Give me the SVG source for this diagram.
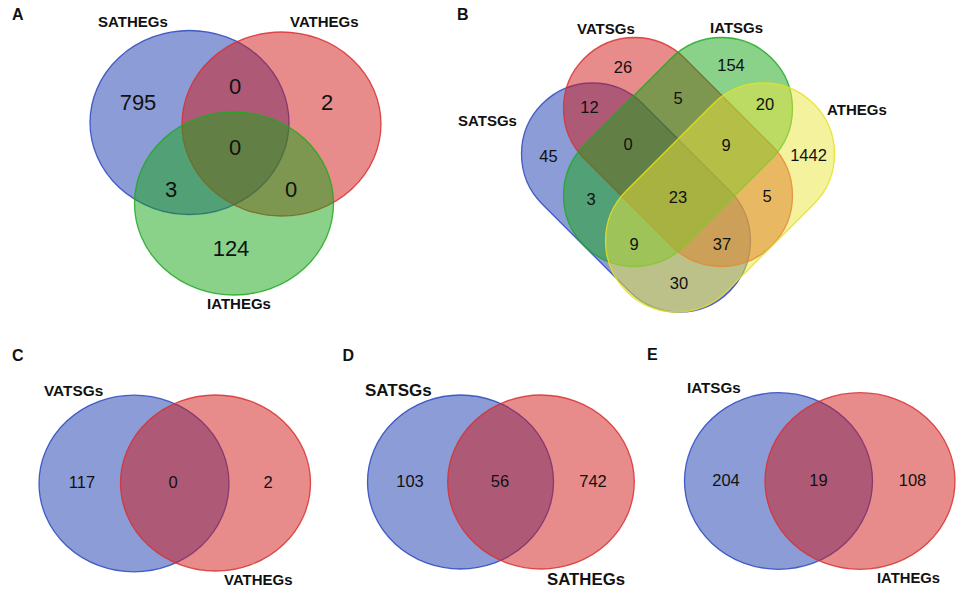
<svg xmlns="http://www.w3.org/2000/svg" width="957" height="591" viewBox="0 0 957 591">
<style>
.bg{fill:#ffffff}
.s{stroke-width:1.3;stroke-opacity:0.85}
.blue{fill:#1a3ab0;fill-opacity:0.5;stroke:#2a46c0}
.red{fill:#d01818;fill-opacity:0.5;stroke:#d83030}
.green{fill:#16a316;fill-opacity:0.5;stroke:#20a820}
.yellow{fill:#ece63c;fill-opacity:0.5;stroke:#e8e020}
.lab{font-family:"Liberation Sans",Arial,sans-serif;font-weight:bold;fill:#111}
.pl{font-family:"Liberation Sans",Arial,sans-serif;font-weight:bold;font-size:16px;fill:#111}
.num{font-family:"Liberation Sans",Arial,sans-serif;fill:#111;text-anchor:middle;font-size:16.5px}
.numA{font-family:"Liberation Sans",Arial,sans-serif;fill:#111;text-anchor:middle;font-size:22px}
</style>
<rect class="bg" x="0" y="0" width="957" height="591"/>
<g id="connectors"/>

<!-- Panel A -->
<g id="panelA">
  <text class="pl" x="12" y="20">A</text>
  <g id="A_SATHEGs">
    <ellipse class="blue s" cx="189.5" cy="122.5" rx="99.5" ry="92"/>
    <text class="lab" x="98" y="27" font-size="15">SATHEGs</text>
  </g>
  <g id="A_VATHEGs">
    <ellipse class="red s" cx="281.5" cy="124" rx="99.5" ry="92"/>
    <text class="lab" x="290" y="27" font-size="15">VATHEGs</text>
  </g>
  <g id="A_IATHEGs">
    <ellipse class="green s" cx="234" cy="203.5" rx="99.5" ry="91.5"/>
    <text class="lab" x="207" y="309" font-size="15">IATHEGs</text>
  </g>
  <g id="A_counts">
    <text class="numA" x="138" y="110">795</text>
    <text class="numA" x="235" y="94">0</text>
    <text class="numA" x="327" y="110">2</text>
    <text class="numA" x="235" y="155">0</text>
    <text class="numA" x="171" y="197">3</text>
    <text class="numA" x="291" y="197">0</text>
    <text class="numA" x="231" y="256">124</text>
  </g>
</g>

<!-- Panel B -->
<g id="panelB">
  <text class="pl" x="457" y="20">B</text>
  <g id="B_SATSGs">
    <rect class="blue s" x="503.5" y="126.5" width="265" height="142" rx="71" transform="rotate(45 636 197.5)"/>
    <text class="lab" x="458" y="126" font-size="15">SATSGs</text>
  </g>
  <g id="B_VATSGs">
    <rect class="red s" x="545.5" y="81" width="265" height="142" rx="71" transform="rotate(45 678 152)"/>
    <text class="lab" x="577" y="34" font-size="15">VATSGs</text>
  </g>
  <g id="B_IATSGs">
    <rect class="green s" x="545.5" y="81" width="265" height="142" rx="71" transform="rotate(-45 678 152)"/>
    <text class="lab" x="710" y="33" font-size="15">IATSGs</text>
  </g>
  <g id="B_ATHEGs">
    <rect class="yellow s" x="587.5" y="126.5" width="265" height="142" rx="71" transform="rotate(-45 720 197.5)"/>
    <text class="lab" x="827" y="115" font-size="15">ATHEGs</text>
  </g>
  <g id="B_counts">
    <text class="num" x="623" y="72.5">26</text>
    <text class="num" x="731" y="70.5">154</text>
    <text class="num" x="589.5" y="112.5">12</text>
    <text class="num" x="678" y="104">5</text>
    <text class="num" x="765" y="110">20</text>
    <text class="num" x="548.5" y="161.5">45</text>
    <text class="num" x="628" y="150">0</text>
    <text class="num" x="726" y="150.5">9</text>
    <text class="num" x="808.5" y="160.5">1442</text>
    <text class="num" x="591" y="205">3</text>
    <text class="num" x="678" y="203">23</text>
    <text class="num" x="767" y="202">5</text>
    <text class="num" x="634" y="250">9</text>
    <text class="num" x="722" y="250">37</text>
    <text class="num" x="679" y="289">30</text>
  </g>
</g>

<!-- Panel C -->
<g id="panelC">
  <text class="pl" x="12" y="361">C</text>
  <g id="C_VATSGs">
    <ellipse class="blue s" cx="134" cy="483.5" rx="95" ry="88.3"/>
    <text class="lab" x="44" y="396" font-size="15.4">VATSGs</text>
  </g>
  <g id="C_VATHEGs">
    <ellipse class="red s" cx="215.5" cy="483" rx="95" ry="88"/>
    <text class="lab" x="224" y="585" font-size="15">VATHEGs</text>
  </g>
  <g id="C_counts">
    <text class="num" x="82" y="488">117</text>
    <text class="num" x="173" y="488">0</text>
    <text class="num" x="268" y="488">2</text>
  </g>
</g>

<!-- Panel D -->
<g id="panelD">
  <text class="pl" x="342.5" y="361">D</text>
  <g id="D_SATSGs">
    <ellipse class="blue s" cx="460.5" cy="482" rx="93" ry="87"/>
    <text class="lab" x="365" y="396" font-size="17">SATSGs</text>
  </g>
  <g id="D_SATHEGs">
    <ellipse class="red s" cx="541" cy="482" rx="93.3" ry="87"/>
    <text class="lab" x="547" y="585" font-size="16.8">SATHEGs</text>
  </g>
  <g id="D_counts">
    <text class="num" x="410" y="487">103</text>
    <text class="num" x="500" y="487">56</text>
    <text class="num" x="593" y="487">742</text>
  </g>
</g>

<!-- Panel E -->
<g id="panelE">
  <text class="pl" x="647" y="360">E</text>
  <g id="E_IATSGs">
    <ellipse class="blue s" cx="778.5" cy="481" rx="94" ry="88.3"/>
    <text class="lab" x="687" y="392.5" font-size="15.2">IATSGs</text>
  </g>
  <g id="E_IATHEGs">
    <ellipse class="red s" cx="860" cy="481" rx="95" ry="88.3"/>
    <text class="lab" x="877" y="582.5" font-size="14.8">IATHEGs</text>
  </g>
  <g id="E_counts">
    <text class="num" x="726" y="486">204</text>
    <text class="num" x="818.5" y="486">19</text>
    <text class="num" x="912.5" y="486">108</text>
  </g>
</g>
</svg>
